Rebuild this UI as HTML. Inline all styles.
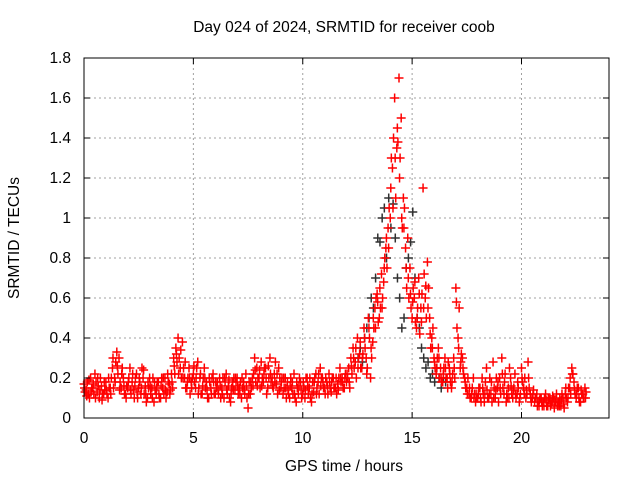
<!DOCTYPE html>
<html><head><meta charset="utf-8"><style>
body{margin:0;background:#fff}
svg text{font-family:"Liberation Sans",Arial,sans-serif;font-size:15.5px;fill:#000}
</style></head><body>
<svg id="c" width="640" height="480" viewBox="0 0 640 480">
<text x="344" y="32" text-anchor="middle">Day 024 of 2024, SRMTID for receiver coob</text>
<text x="344" y="471" text-anchor="middle">GPS time / hours</text>
<text transform="translate(19,238) rotate(-90)" text-anchor="middle">SRMTID / TECUs</text>
<g id="grid"></g><g id="marks"></g>
<rect x="84" y="58" width="525" height="360" fill="none" stroke="#000"/>
<g id="ticks"></g>
</svg>
<script>
const xTicks=[0,5,10,15,20];
const yTicks=[0,0.2,0.4,0.6,0.8,1,1.2,1.4,1.6,1.8];
const yTickLabels=["0","0.2","0.4","0.6","0.8","1","1.2","1.4","1.6","1.8"];
const redA=[0.17,0.14,0.12,0.2,0.15,0.22,0.13,0.1,0.16,0.12,
0.18,0.1,0.15,0.25,0.2,0.33,0.3,0.15,0.2,0.12,
0.15,0.25,0.18,0.1,0.22,0.15,0.12,0.2,0.16,0.1,
0.2,0.15,0.08,0.12,0.18,0.1,0.15,0.2,0.13,0.17,
0.22,0.3,0.35,0.4,0.25,0.38,0.2,0.15,0.25,0.18,
0.22,0.15,0.28,0.2,0.12,0.25,0.18,0.1,0.15,0.22,
0.12,0.18,0.2,0.15,0.1,0.22,0.16,0.08,0.18,0.14,
0.2,0.15,0.1,0.18,0.22,0.05,0.12,0.2,0.3,0.25,
0.2,0.28,0.18,0.25,0.15,0.3,0.2,0.22,0.17,0.25,
0.15,0.12,0.2,0.18,0.1,0.15,0.22,0.08,0.12,0.18,
0.12,0.1,0.2,0.15,0.08,0.13,0.22,0.18,0.25,0.2,
0.15,0.18,0.22,0.13,0.2,0.15,0.17,0.25,0.2,0.15,
0.18,0.25,0.3,0.35,0.28,0.4,0.32,0.25,0.45,0.3,
0.5,0.2,0.38,0.55,0.62,0.5,0.72,0.68,0.85,0.95,
1.0,1.25,1.6,1.35,1.7,1.5,1.1,0.85,0.9,0.75,
0.5,0.6,0.45,0.7,0.55,1.15,0.6,0.78,0.5,0.4,
0.3,0.22,0.35,0.25,0.18,0.3,0.2,0.25,0.15,0.3,
0.65,0.4,0.25,0.3,0.2,0.15,0.12,0.1,0.2,0.08,
0.1,0.15,0.2,0.08,0.25,0.1,0.12,0.28,0.1,0.15,
0.2,0.3,0.12,0.08,0.15,0.2,0.1,0.22,0.12,0.08,
0.25,0.15,0.1,0.28,0.12,0.1,0.08,0.12,0.06,0.1,
0.08,0.12,0.06,0.1,0.08,0.05,0.12,0.08,0.06,0.1,
0.12,0.08,0.15,0.25,0.18,0.1,0.15,0.08,0.12,0.15];
const redB=[0.13,0.18,0.1,0.15,0.12,0.18,0.16,0.2,0.12,0.14,
0.12,0.15,0.2,0.15,0.28,0.22,0.18,0.25,0.12,0.16,
0.2,0.12,0.14,0.2,0.1,0.18,0.25,0.12,0.08,0.15,
0.12,0.2,0.14,0.18,0.1,0.2,0.12,0.1,0.18,0.14,
0.15,0.22,0.28,0.3,0.2,0.25,0.15,0.2,0.12,0.2,
0.18,0.25,0.15,0.12,0.2,0.15,0.1,0.18,0.2,0.12,
0.15,0.12,0.1,0.2,0.18,0.12,0.1,0.15,0.2,0.18,
0.12,0.18,0.15,0.12,0.1,0.18,0.15,0.22,0.18,0.2,
0.15,0.2,0.25,0.12,0.2,0.18,0.15,0.28,0.12,0.2,
0.2,0.15,0.1,0.12,0.2,0.12,0.1,0.15,0.2,0.1,
0.15,0.2,0.12,0.1,0.18,0.2,0.15,0.12,0.2,0.15,
0.2,0.12,0.15,0.2,0.15,0.12,0.2,0.18,0.15,0.22,
0.2,0.15,0.22,0.25,0.2,0.3,0.25,0.32,0.35,0.25,
0.4,0.3,0.45,0.6,0.48,0.55,0.6,0.8,0.75,1.05,
1.3,1.4,1.1,1.38,1.3,0.95,1.05,0.65,0.6,0.55,
0.65,0.48,0.55,0.42,0.62,0.72,0.5,0.65,0.35,0.45,
0.25,0.3,0.2,0.18,0.25,0.2,0.28,0.18,0.22,0.2,
0.45,0.55,0.32,0.22,0.15,0.2,0.1,0.15,0.12,0.1,
0.15,0.08,0.12,0.18,0.1,0.2,0.08,0.15,0.2,0.08,
0.12,0.15,0.22,0.1,0.25,0.12,0.15,0.1,0.15,0.12,
0.18,0.2,0.12,0.15,0.08,0.14,0.1,0.08,0.1,0.06,
0.1,0.06,0.09,0.07,0.1,0.08,0.06,0.1,0.12,0.05,
0.1,0.15,0.12,0.22,0.12,0.15,0.08,0.12,0.1,0.13];
const redC=[0.15,0.11,0.19,0.13,0.17,0.1,0.2,0.14,0.09,0.18,
0.14,0.2,0.12,0.3,0.18,0.26,0.14,0.22,0.16,0.1,
0.18,0.14,0.22,0.16,0.13,0.2,0.15,0.24,0.12,0.18,
0.16,0.1,0.18,0.15,0.12,0.16,0.2,0.14,0.22,0.12,
0.18,0.26,0.32,0.22,0.34,0.2,0.28,0.18,0.2,0.15,
0.26,0.2,0.12,0.22,0.16,0.2,0.14,0.2,0.12,0.18,
0.18,0.14,0.16,0.12,0.2,0.14,0.19,0.12,0.14,0.2,
0.16,0.12,0.2,0.14,0.16,0.12,0.18,0.16,0.24,0.16,
0.24,0.16,0.22,0.2,0.26,0.22,0.16,0.18,0.22,0.14,
0.18,0.2,0.15,0.14,0.16,0.18,0.12,0.18,0.16,0.14,
0.18,0.14,0.16,0.2,0.12,0.18,0.12,0.22,0.16,0.18,
0.12,0.16,0.18,0.18,0.15,0.2,0.14,0.2,0.18,0.2,
0.22,0.18,0.26,0.3,0.35,0.25,0.38,0.3,0.4,0.22,
0.45,0.35,0.5,0.45,0.58,0.65,0.55,0.75,0.9,0.85,
1.15,1.05,1.3,1.45,1.2,1.0,0.95,0.75,0.7,0.62,
0.58,0.68,0.5,0.62,0.48,0.55,0.66,0.55,0.42,0.35,
0.28,0.25,0.3,0.2,0.22,0.25,0.15,0.22,0.18,0.25,
0.58,0.35,0.28,0.25,0.18,0.12,0.15,0.12,0.1,0.12,
0.12,0.1,0.15,0.12,0.14,0.12,0.18,0.1,0.14,0.18,
0.15,0.22,0.18,0.12,0.1,0.16,0.14,0.12,0.18,0.1,
0.2,0.12,0.14,0.2,0.1,0.12,0.1,0.06,0.09,0.08,
0.06,0.09,0.1,0.06,0.11,0.09,0.08,0.06,0.09,0.07,
0.15,0.1,0.2,0.22,0.14,0.12,0.1,0.14,0.1,0.1];
const blackStart=12.5;
const blackVals=[0.3,0.35,0.28,0.4,0.45,0.5,0.6,0.55,0.7,0.9,0.88,1.0,1.05,0.8,1.1,0.95,1.07,0.9,0.7,0.6,0.45,0.5,0.75,0.8,0.88,1.03,0.7,0.5,0.45,0.35,0.3,0.25,0.28,0.2,0.22,0.18,0.25,0.2,0.15,0.2,0.18];
const step=0.1;
const NS="http://www.w3.org/2000/svg";
function X(v){return 84+v/24*525;}
function Y(v){return 418-v/1.8*360;}
const grid=document.getElementById('grid'),ticks=document.getElementById('ticks'),marks=document.getElementById('marks');
function mk(tag,at,par){const e=document.createElementNS(NS,tag);for(const k in at)e.setAttribute(k,at[k]);par.appendChild(e);return e;}
xTicks.forEach(t=>{const x=X(t);
 if(t>0){const g=mk('line',{x1:x,x2:x,y1:58,y2:418,stroke:'#a0a0a0','stroke-dasharray':'2,3'},grid);
 
 }
 const l=mk('path',{d:`M${x},418v-6M${x},58v6`,stroke:'#000'},ticks);
 
 
 const tx=mk('text',{x:x,y:443,'text-anchor':'middle'},ticks);tx.textContent=t;
 
 });
yTicks.forEach((t,i)=>{const y=Y(t);
 if(i>0&&i<yTicks.length-1){const g=mk('line',{x1:84,x2:609,y1:y,y2:y,stroke:'#a0a0a0','stroke-dasharray':'2,3'},grid);
 
 }
 const l=mk('path',{d:`M84,${y}h6M609,${y}h-6`,stroke:'#000'},ticks);
 
 
 const tx=mk('text',{x:71,y:y+5,'text-anchor':'end'},ticks);tx.textContent=yTickLabels[i];
 
 });
function series(vals,t0,color,name){let d='';vals.forEach((v,i)=>{const x=X(t0+i*step),y=Y(v);d+=`M${x-4.5},${y}h9M${x},${y-4.5}v9`;});
 const p=mk('path',{d:d,stroke:color,'stroke-width':1.5,fill:'none'},marks);
 
 }
series(blackVals,blackStart+0.03,'#303030','series-black-points');
series(redA,0,'#ff0000','series-red-points-a');
series(redB,0.05,'#ff0000','series-red-points-b');
series(redC,0.025,'#ff0000','series-red-points-c');
</script>
</body></html>
